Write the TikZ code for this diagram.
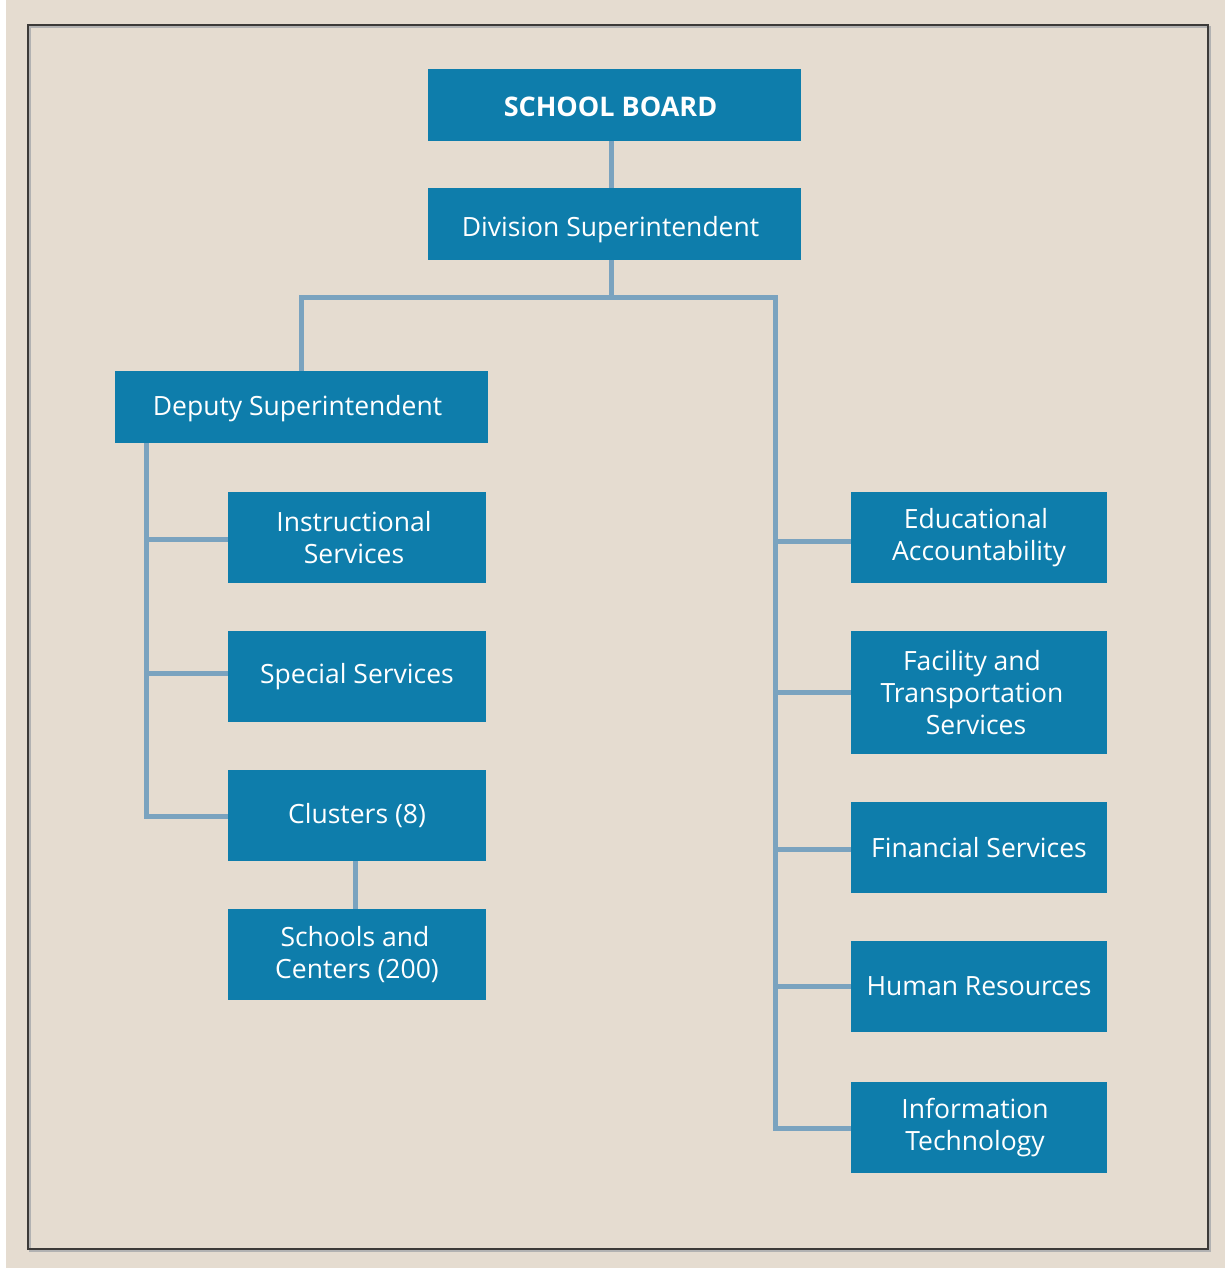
\documentclass[tikz,border=0pt]{standalone}
\usepackage{fontspec}
\setmainfont{Open Sans}
\definecolor{bg}{HTML}{E5DCD0}
\definecolor{boxblue}{HTML}{0E7DAB}
\definecolor{conn}{HTML}{7AA3BF}
\definecolor{frame}{HTML}{3C3A38}
\newcommand{\lft}[1]{\hspace*{-#1pt}}
\begin{document}
\begin{tikzpicture}[x=1pt,y=-1pt,
  unit/.style={fill=boxblue, text=white, inner sep=0pt, align=center,
    font=\fontsize{26.5}{32}\selectfont},
  link/.style={draw=conn, line width=5pt},
]
\useasboundingbox (0,0) rectangle (1225,1268);
\fill[white] (0,0) rectangle (1225,1268);
\fill[bg] (6,0) rectangle (1225,1268);
\draw[gray!60, line width=1.5pt] (30,27) rectangle (1210,1251);
\draw[frame, line width=2pt] (28,25) rectangle (1208,1249);

% nodes (centers from pixel measurements)
\node[unit, minimum width=373pt, minimum height=72pt, text height=24pt, text depth=0pt,
  font=\fontsize{27}{32}\selectfont\bfseries] (sb) at (614.5,105) {\lft{8}SCHOOL BOARD};
\node[unit, minimum width=373pt, minimum height=72pt, text height=24pt, text depth=0pt] (ds) at (614.5,224) {\lft{8}Division Superintendent};
\node[unit, minimum width=373pt, minimum height=72pt, text height=20pt, text depth=4pt] (dep) at (301.5,407) {\lft{8}Deputy Superintendent};
\node[unit, minimum width=258pt, minimum height=91pt] (ins) at (357,537.5) {\lft{6}Instructional\\\lft{6}Services};
\node[unit, minimum width=258pt, minimum height=91pt] (spe) at (357,676.5) {Special Services};
\node[unit, minimum width=258pt, minimum height=91pt] (clu) at (357,815.5) {Clusters (8)};
\node[unit, minimum width=258pt, minimum height=91pt] (sch) at (357,954.5) {\lft{4}Schools and\\Centers (200)};
\node[unit, minimum width=256pt, minimum height=91pt] (edu) at (979,537.5) {\lft{6}Educational\\Accountability};
\node[unit, minimum width=256pt, minimum height=123pt] (fac) at (979,692.5) {\lft{14}Facility and\\\lft{14}Transportation\\\lft{6}Services};
\node[unit, minimum width=256pt, minimum height=91pt] (fin) at (979,847.5) {Financial Services};
\node[unit, minimum width=256pt, minimum height=91pt] (hum) at (979,986.5) {Human Resources};
\node[unit, minimum width=256pt, minimum height=91pt] (inf) at (979,1127.5) {\lft{8}Information\\\lft{8}Technology};

\coordinate (junc) at (611,297);
\draw[link] (611,141) -- (611,188);
\draw[link, line join=miter] (611,260) -- (junc);
\draw[link, line join=miter] (301,371) -- (301,297) -- (775,297) -- (775,1128) -- (inf.west |- 0,1128);
\draw[link, line join=miter] (146,443) -- (146,816) -- (clu.west |- 0,816);
\draw[link] (146,539) -- (ins.west |- 0,539);
\draw[link] (146,673) -- (spe.west |- 0,673);
\draw[link] (355,861) -- (355,909);
\draw[link] (775,541) -- (edu.west |- 0,541);
\draw[link] (775,692) -- (fac.west |- 0,692);
\draw[link] (775,849) -- (fin.west |- 0,849);
\draw[link] (775,986) -- (hum.west |- 0,986);
\end{tikzpicture}
\end{document}
